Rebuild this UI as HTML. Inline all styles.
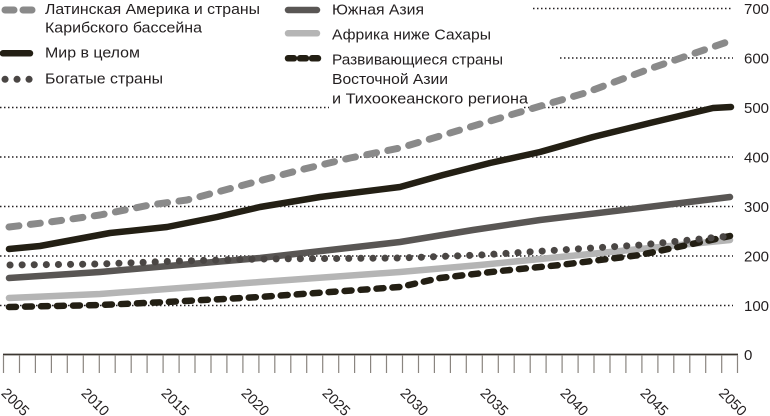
<!DOCTYPE html>
<html>
<head>
<meta charset="utf-8">
<style>
  html,body{margin:0;padding:0;background:#fff;}
  svg{display:block;}
  text{font-family:"Liberation Sans","Noto Sans CJK SC",sans-serif;fill:#231f20;}
</style>
</head>
<body>
<svg width="770" height="416" viewBox="0 0 770 416" xmlns="http://www.w3.org/2000/svg">
  <!-- gridlines -->
  <g stroke="#231f20" stroke-width="1.5" stroke-dasharray="1.5 2.5" fill="none">
    <line x1="533" y1="8.5" x2="733" y2="8.5"/>
    <line x1="560" y1="58" x2="733" y2="58"/>
    <line x1="0" y1="107.5" x2="733" y2="107.5"/>
    <line x1="0" y1="157" x2="733" y2="157"/>
    <line x1="0" y1="206.5" x2="733" y2="206.5"/>
    <line x1="0" y1="256" x2="733" y2="256"/>
    <line x1="0" y1="305.5" x2="733" y2="305.5"/>
  </g>
  <!-- white box behind legend text that interrupts the 500 line -->
  <rect x="329" y="92" width="195" height="19" fill="#fff"/>

  <!-- y labels -->
  <g font-size="15">
    <text x="744" y="14">700</text>
    <text x="744" y="63.5">600</text>
    <text x="744" y="113">500</text>
    <text x="744" y="162.5">400</text>
    <text x="744" y="212">300</text>
    <text x="744" y="261.5">200</text>
    <text x="744" y="311">100</text>
    <text x="744" y="360">0</text>
  </g>

  <!-- x axis -->
  <line x1="3" y1="354.5" x2="738" y2="354.5" stroke="#3b3630" stroke-width="1.7"/>
  <g stroke="#8a8580" stroke-width="1.2" id="ticks"></g>

  <!-- x labels -->
  <g font-size="14.5">
    <text transform="translate(0.5,394) rotate(45)">2005</text>
    <text transform="translate(80.5,394) rotate(45)">2010</text>
    <text transform="translate(160.5,394) rotate(45)">2015</text>
    <text transform="translate(240.5,394) rotate(45)">2020</text>
    <text transform="translate(321.5,394) rotate(45)">2025</text>
    <text transform="translate(399.5,394) rotate(45)">2030</text>
    <text transform="translate(479.5,394) rotate(45)">2035</text>
    <text transform="translate(559.5,394) rotate(45)">2040</text>
    <text transform="translate(639.5,394) rotate(45)">2045</text>
    <text transform="translate(718,394) rotate(45)">2050</text>
  </g>

  <!-- series -->
  <g fill="none" stroke-linecap="round" stroke-linejoin="round">
    <!-- Africa -->
    <polyline stroke="#b5b5b5" stroke-width="6.5"
      points="9,298 100,294 180,288 260,282 330,277 400,272 480,265 560,257 640,249 730,240"/>
    <!-- East Asia -->
    <polyline stroke="#231f14" stroke-width="6.5" stroke-dasharray="7 9"
      points="9,307 100,305 167,302 260,297 330,292 400,287 440,278 500,271 560,265 640,255 730,236"/>
    <!-- South Asia -->
    <polyline stroke="#595654" stroke-width="6.5"
      points="9,278 100,272 180,265 260,258 330,250 400,242 473,230 540,220 640,208 730,197"/>
    <!-- Rich -->
    <polyline stroke="#4a4644" stroke-width="7" stroke-dasharray="0.1 12"
      points="10,265 100,264 180,261 260,259 400,258 480,255 560,250 640,245 730,236"/>
    <!-- World -->
    <polyline stroke="#231f14" stroke-width="6.5"
      points="9,249 40,246 110,233 167,227 217,217 260,207 320,197 400,187 443,175 490,163 540,152 593,137 650,123 713,108 731,107"/>
    <!-- Latin America -->
    <polyline stroke="#8a8a8a" stroke-width="7" stroke-dasharray="10 11.5"
      points="9,227 50,222 100,215 150,205 187,200 240,186 300,170 350,158 400,148 460,130 527,110 585,93 652,68 730,41"/>
  </g>

  <!-- legend swatches -->
  <g fill="none" stroke-linecap="round">
    <line x1="5" y1="10" x2="14" y2="10" stroke="#8a8a8a" stroke-width="7"/>
    <line x1="23" y1="10" x2="32" y2="10" stroke="#8a8a8a" stroke-width="7"/>
    <line x1="3" y1="53.3" x2="30" y2="53.3" stroke="#231f14" stroke-width="6.5"/>
    <line x1="5" y1="79.3" x2="5.1" y2="79.3" stroke="#4a4644" stroke-width="7"/>
    <line x1="17" y1="79.3" x2="17.1" y2="79.3" stroke="#4a4644" stroke-width="7"/>
    <line x1="29" y1="79.3" x2="29.1" y2="79.3" stroke="#4a4644" stroke-width="7"/>
    <line x1="288" y1="10" x2="317" y2="10" stroke="#595654" stroke-width="6.5"/>
    <line x1="288" y1="33.3" x2="317" y2="33.3" stroke="#b5b5b5" stroke-width="6.5"/>
    <line x1="288" y1="58.3" x2="294" y2="58.3" stroke="#231f14" stroke-width="6.5"/>
    <line x1="300" y1="58.3" x2="306" y2="58.3" stroke="#231f14" stroke-width="6.5"/>
    <line x1="312" y1="58.3" x2="318" y2="58.3" stroke="#231f14" stroke-width="6.5"/>
  </g>

  <!-- legend text -->
  <g font-size="14.5">
    <text x="45" y="14" textLength="215" lengthAdjust="spacingAndGlyphs">Латинская Америка и страны</text>
    <text x="45" y="32.5" textLength="157" lengthAdjust="spacingAndGlyphs">Карибского бассейна</text>
    <text x="45" y="57.5" textLength="95" lengthAdjust="spacingAndGlyphs">Мир в целом</text>
    <text x="45" y="83.3" textLength="118" lengthAdjust="spacingAndGlyphs">Богатые страны</text>
    <text x="332" y="14.5" textLength="92" lengthAdjust="spacingAndGlyphs">Южная Азия</text>
    <text x="332" y="39.5" textLength="159" lengthAdjust="spacingAndGlyphs">Африка ниже Сахары</text>
    <text x="332" y="64.3" textLength="171" lengthAdjust="spacingAndGlyphs">Развивающиеся страны</text>
    <text x="332" y="84" textLength="116" lengthAdjust="spacingAndGlyphs">Восточной Азии</text>
    <text x="332" y="103.3" textLength="196" lengthAdjust="spacingAndGlyphs">и Тихоокеанского региона</text>
  </g>

  <!-- ticks (explicit) -->
  <g stroke="#8a8580" stroke-width="1.2">
    <path d="M3.5 355V373M19.5 355V373M35.4 355V373M51.4 355V373M67.3 355V373M83.3 355V373M99.3 355V373M115.2 355V373M131.2 355V373M147.1 355V373M163.1 355V373M179.1 355V373M195 355V373M211 355V373M226.9 355V373M242.9 355V373M258.9 355V373M274.8 355V373M290.8 355V373M306.7 355V373M322.7 355V373M338.7 355V373M354.6 355V373M370.6 355V373M386.5 355V373M402.5 355V373M418.5 355V373M434.4 355V373M450.4 355V373M466.3 355V373M482.3 355V373M498.3 355V373M514.2 355V373M530.2 355V373M546.1 355V373M562.1 355V373M578.1 355V373M594 355V373M610 355V373M625.9 355V373M641.9 355V373M657.9 355V373M673.8 355V373M689.8 355V373M705.7 355V373M721.7 355V373M737.5 355V373"/>
  </g>
</svg>
</body>
</html>
